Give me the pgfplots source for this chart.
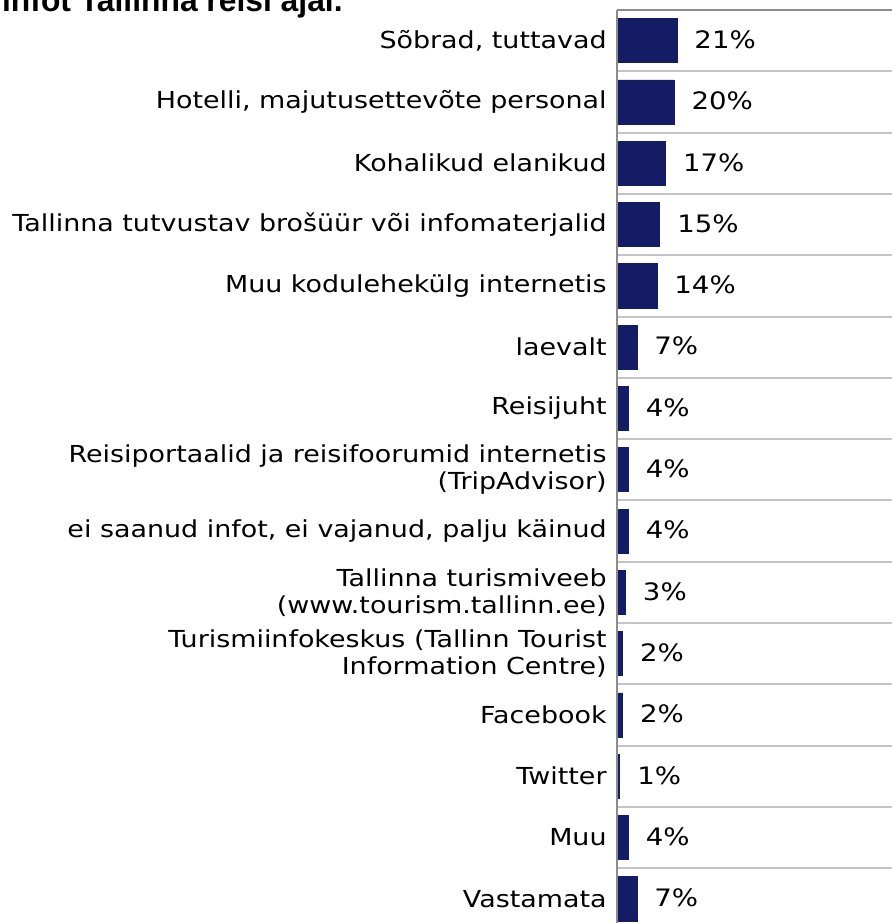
\documentclass[border=0pt]{standalone}
\usepackage{fontspec}
\setmainfont{DejaVu Sans}[FakeStretch=1.15]
\newfontfamily\titlefont{Liberation Sans}
\usepackage{pgfplots}
\pgfplotsset{compat=1.18}
\definecolor{barnavy}{HTML}{151C66}
\definecolor{gridgray}{HTML}{C4C4C4}
\definecolor{axgray}{HTML}{8C8C8C}

\begin{document}
\begin{tikzpicture}
\begin{axis}[at={(308.5pt,-5pt)},anchor=north west,
 scale only axis=true,width=143pt,height=459.75pt,
 xbar,bar width=0.72,
 xmin=0,xmax=100,ymin=-0.5,ymax=14.5,y dir=reverse,
 axis line style={draw=none},
 xtick=\empty,
 ytick={0,...,14},
 yticklabels={{Sõbrad, tuttavad},{Hotelli, majutusettevõte personal},{Kohalikud elanikud},
  {Tallinna tutvustav brošüür või infomaterjalid},{Muu kodulehekülg internetis},{laevalt},
  {Reisijuht},{Reisiportaalid ja reisifoorumid internetis\\(TripAdvisor)},
  {ei saanud infot, ei vajanud, palju käinud},{Tallinna turismiveeb\\(www.tourism.tallinn.ee)},
  {Turismiinfokeskus (Tallinn Tourist\\Information Centre)},{Facebook},{Twitter},{Muu},{Vastamata}},
 major tick length=0pt,
 minor ytick={-0.5,0.5,...,14.5},minor tick length=0pt,
 yminorgrids=true,minor grid style={gridgray,line width=1pt},
 yticklabel style={align=right,font=\fontsize{11.7}{13.6}\selectfont,inner sep=0pt,xshift=-5pt},
 /pgf/number format/assume math mode=true,
 nodes near coords={\pgfmathprintnumber{\pgfplotspointmeta}\%},
 point meta=x,
 every node near coord/.append style={anchor=west,inner sep=0pt,xshift=8.5pt,yshift=0.5pt,
  font=\fontsize{12}{13}\selectfont,text=black},
 clip=false]
\addplot[draw=barnavy,fill=barnavy] coordinates {
 (21,0) (20,1) (17,2) (15,3) (14,4) (7,5) (4,6) (4,7) (4,8) (3,9) (2,10) (2,11) (1,12) (4,13) (7,14)};
\draw[axgray,line width=1pt] (axis cs:0,-0.5) -- (axis cs:100,-0.5);
\draw[axgray,line width=0.8pt] (axis cs:0,-0.5) -- (axis cs:0,14.5);
\end{axis}
\node[anchor=base east,inner sep=0pt,font=\titlefont\bfseries\fontsize{15.9}{18}\selectfont] at (171.5pt,-5.5pt) {infot Tallinna reisi ajal.};
\pgfresetboundingbox
\useasboundingbox (0,0) rectangle (445.5pt,-461.5pt);
\end{tikzpicture}
\end{document}
